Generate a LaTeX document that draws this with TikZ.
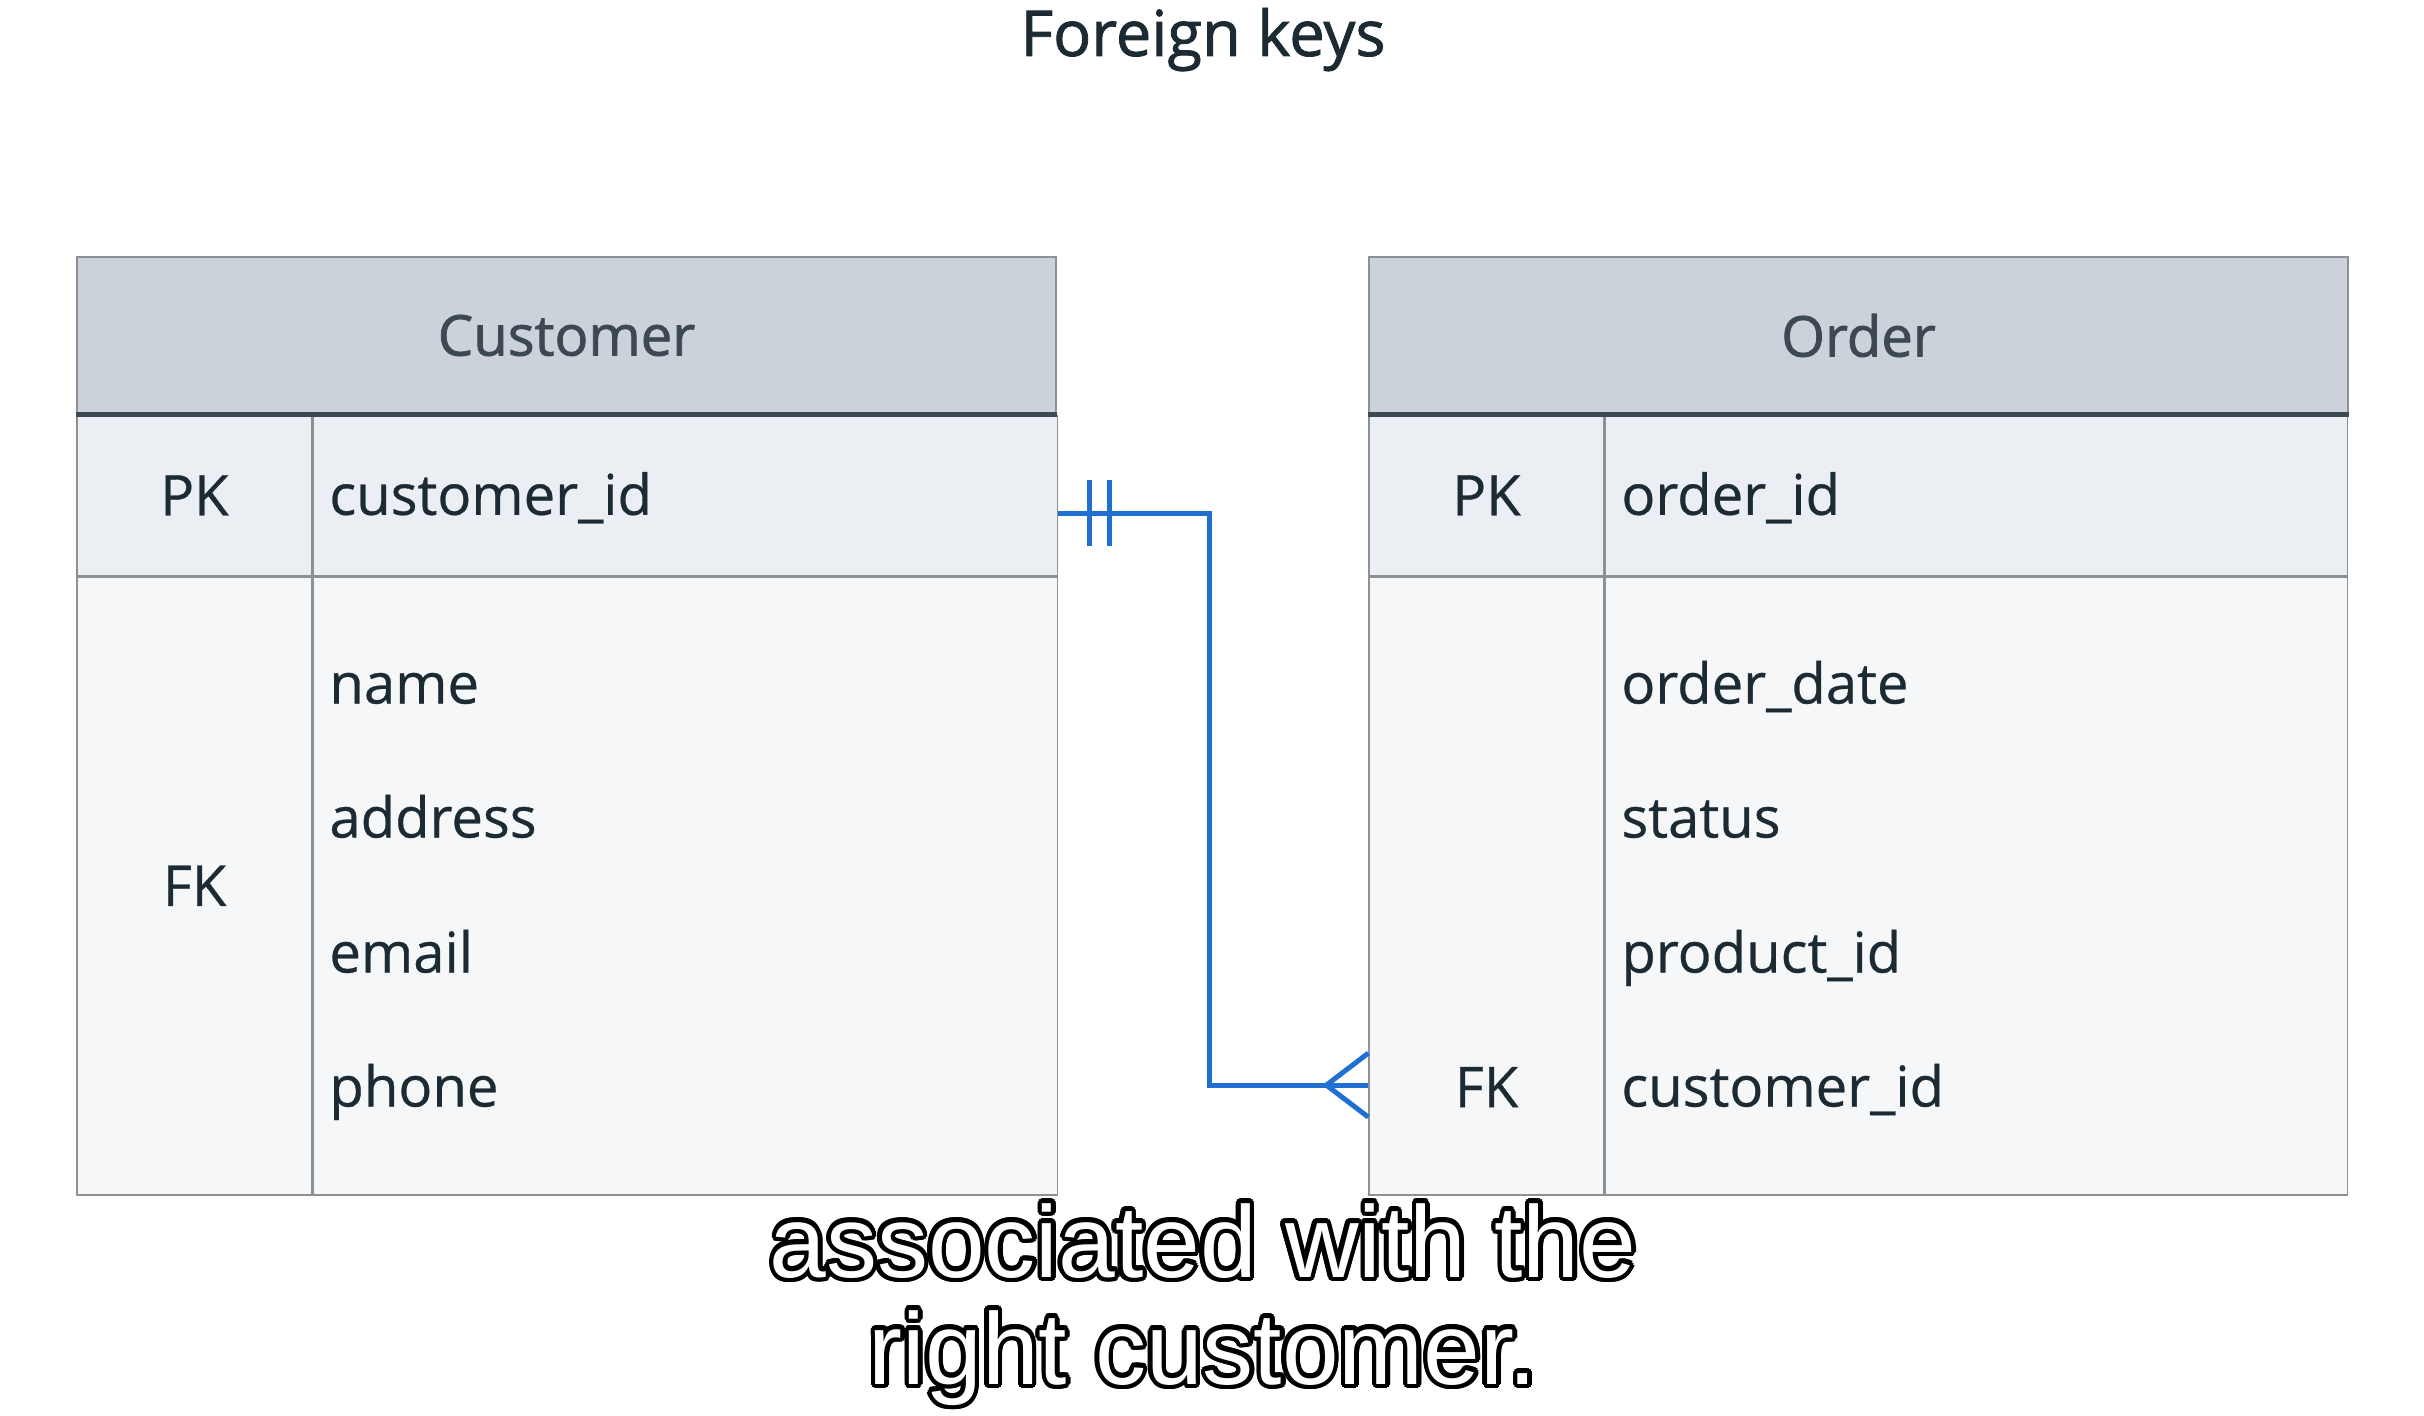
\documentclass[tikz,border=0pt]{standalone}
\usepackage{fontspec}
\setmainfont{Open Sans}
\newfontfamily\bodyfont[FakeBold=0.5]{Open Sans}
\newfontfamily\medfont[FakeBold=1.3]{Open Sans}
\newfontfamily\capfont{Liberation Sans}
\usepackage[copies]{contour}
\contourlength{1.3pt}
\usetikzlibrary{positioning,calc}
\definecolor{headfill}{RGB}{203,210,218}
\definecolor{pkfill}{RGB}{235,238,242}
\definecolor{bodyfill}{RGB}{245,247,249}
\definecolor{tableline}{RGB}{140,145,150}
\definecolor{headline}{RGB}{60,72,82}
\definecolor{inkcol}{RGB}{28,43,51}
\definecolor{relblue}{RGB}{32,112,212}
\tikzset{
  tablehead/.style={draw=tableline, fill=headfill, minimum width=97.9mm, minimum height=15.7mm, inner sep=0pt, font=\medfont\fontsize{16}{19}\selectfont, text=headline},
  keycell/.style={draw=tableline, minimum width=23.5mm, inner sep=0pt, font=\bodyfont\fontsize{16}{19}\selectfont, text=inkcol},
  fieldcell/.style={draw=tableline, minimum width=74.4mm, inner sep=0pt},
  pkrow/.style={fill=pkfill, minimum height=16mm},
  bodyrow/.style={fill=bodyfill, minimum height=61.8mm},
  fieldname/.style={anchor=mid west, inner sep=0pt, font=\bodyfont\fontsize{16}{19}\selectfont, text=inkcol},
  keyname/.style={inner sep=0pt, font=\bodyfont\fontsize{16}{19}\selectfont, text=inkcol},
  relline/.style={draw=relblue, line width=0.5mm},
  caption/.style={anchor=base, inner sep=0pt, text=white, font=\capfont\fontsize{29}{32}\selectfont}
}

\begin{document}
\begin{tikzpicture}[x=1mm,y=1mm]
    \useasboundingbox (0,0) rectangle (242.4,-141.6);
    \node[anchor=base, inner sep=0pt, text=inkcol, font=\medfont\fontsize{18}{22}\selectfont] (title) at (120.3,-5.6) {Foreign keys};
    % Customer table
    \node[tablehead] (custhead) at (56.65,-33.55) {Customer};
    \node[keycell, pkrow, anchor=north west] (custpkkey) at (custhead.south west) {PK};
    \node[fieldcell, pkrow, anchor=north west] (custpkfield) at (custpkkey.north east) {};
    \node[keycell, bodyrow, anchor=north west] (custbodykey) at (custpkkey.south west) {FK};
    \node[fieldcell, bodyrow, anchor=north west] (custbodyfield) at (custpkfield.south west) {};
    \draw[headline, line width=0.45mm] (custhead.south west) -- (custhead.south east);
    \node[fieldname] (custid) at ($(custpkfield.west)+(1.6,-1.0)$) {customer\_id};
    \node[fieldname] (custname) at ($(custbodyfield.north west)+(1.6,-11.8)$) {name};
    \node[fieldname] (custaddress) at ($(custbodyfield.north west)+(1.6,-25.2)$) {address};
    \node[fieldname] (custemail) at ($(custbodyfield.north west)+(1.6,-38.7)$) {email};
    \node[fieldname] (custphone) at ($(custbodyfield.north west)+(1.6,-52.1)$) {phone};
    % Order table
    \node[tablehead] (ordhead) at (185.85,-33.55) {Order};
    \node[keycell, pkrow, anchor=north west] (ordpkkey) at (ordhead.south west) {PK};
    \node[fieldcell, pkrow, anchor=north west, minimum width=74.2mm] (ordpkfield) at (ordpkkey.north east) {};
    \node[keycell, bodyrow, anchor=north west] (ordbodykey) at (ordpkkey.south west) {};
    \node[fieldcell, bodyrow, anchor=north west, minimum width=74.2mm] (ordbodyfield) at (ordpkfield.south west) {};
    \draw[headline, line width=0.45mm] (ordhead.south west) -- (ordhead.south east);
    \node[fieldname] (ordid) at ($(ordpkfield.west)+(1.6,-1.0)$) {order\_id};
    \node[fieldname] (orddate) at ($(ordbodyfield.north west)+(1.6,-11.8)$) {order\_date};
    \node[fieldname] (ordstatus) at ($(ordbodyfield.north west)+(1.6,-25.2)$) {status};
    \node[fieldname] (ordproduct) at ($(ordbodyfield.north west)+(1.6,-38.7)$) {product\_id};
    \node[fieldname] (ordcustid) at ($(ordbodyfield.north west)+(1.6,-52.1)$) {customer\_id};
    \node[keyname] (ordfk) at ($(ordbodykey.north)+(0,-51.1)$) {FK};
    % relation
    \coordinate (custone) at ($(custpkfield.east)+(0,-1.8)$);
    \coordinate (ordmany) at ($(ordbodykey.north west)+(0,-50.9)$);
    \draw[relline] (custone) -- ++(15.1,0) |- (ordmany);
    \draw[relline] ($(custone)+(3.1,3.3)$) -- ++(0,-6.6);
    \draw[relline] ($(custone)+(5.1,3.3)$) -- ++(0,-6.6);
    \draw[relline] ($(ordmany)+(0,3.2)$) -- ($(ordmany)+(-4.2,0)$) -- ($(ordmany)+(0,-3.2)$);
    % caption
    \node[caption] (caption1) at (120.3,-127.7) {\contour{black}{associated with the}};
    \node[caption] (caption2) at (120.3,-138.4) {\contour{black}{right customer.}};
\end{tikzpicture}
\end{document}
